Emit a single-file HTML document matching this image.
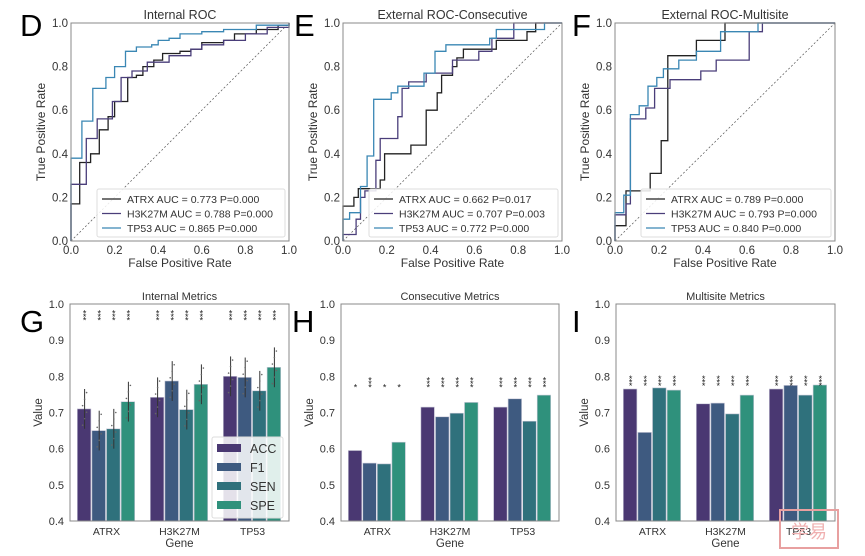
<!DOCTYPE html><html><head><meta charset="utf-8"><style>
body{margin:0;background:#fff;width:865px;height:551px;overflow:hidden}
svg text{font-family:"Liberation Sans",sans-serif;fill:#333}
</style></head><body>
<svg id="s" width="865" height="551" xmlns="http://www.w3.org/2000/svg"></svg>
<script>
const S=document.getElementById('s');let h='';
function T(x,y,t,sz,anc,extra){h+=`<text x="${x}" y="${y}" font-size="${sz}" text-anchor="${anc||'middle'}" ${extra||''}>${t}</text>`;}
const cA='#222',cH='#4a3e7a',cT='#3a87b4';
function roc(x0,x1,y0,y1,title,letter,lx,curves,leg,legx){
 const W=x1-x0,H=y1-y0;const X=v=>x0+v*W,Y=v=>y1-v*H;
 h+=`<line x1="${x0}" y1="${y1}" x2="${x1}" y2="${y0}" stroke="#555" stroke-width="0.7" stroke-dasharray="2,2"/>`;
 curves.forEach((c,i)=>{let p=c.map(q=>X(q[0]).toFixed(1)+','+Y(q[1]).toFixed(1)).join(' ');h+=`<polyline points="${p}" fill="none" stroke="${[cA,cH,cT][i]}" stroke-width="1.3"/>`;});
 h+=`<rect x="${x0}" y="${y0}" width="${W}" height="${H}" fill="none" stroke="#888" stroke-width="1"/>`;
 for(let i=0;i<=5;i++){let v=i/5;T(X(v),y1+13,v.toFixed(1),11.5);T(x0-3,Y(v)+4,v.toFixed(1),11.5,'end');}
 T((x0+x1)/2,y1+26,'False Positive Rate',12);
 T(0,0,'True Positive Rate',12,'middle',`transform="translate(${x0-26},${(y0+y1)/2}) rotate(-90)"`);
 T((x0+x1)/2,y0-4,title,12.5);
 T(lx,y0+13,letter,31,'start','style="fill:#000"');
 h+=`<rect x="${legx}" y="${y0+166}" width="${x1-legx-4}" height="48" fill="#fff" fill-opacity="0.85" stroke="#ddd" rx="2"/>`;
 leg.forEach((t,i)=>{let yy=y0+180+i*14.5;h+=`<line x1="${legx+5}" x2="${legx+24}" y1="${yy-4}" y2="${yy-4}" stroke="${[cA,cH,cT][i]}" stroke-width="1.3"/>`;T(legx+30,yy,t,10.5,'start');});
}
function st(a){let p=[[0,0]];for(let i=0;i<a.length;i+=2){let x=a[i],y=a[i+1];p.push([x,p[p.length-1][1]]);p.push([x,y]);}p.push([1,p[p.length-1][1]]);p.push([1,1]);return p;}
roc(71,289,23,241,'Internal ROC','D',20,[
st([0,.17,.04,.36,.09,.40,.13,.51,.17,.57,.2,.64,.26,.75,.3,.76,.33,.8,.38,.83,.42,.86,.5,.87,.55,.88,.6,.91,.7,.92,.75,.95,.85,.97,.95,.99]),
st([0,.26,.07,.47,.12,.56,.19,.64,.23,.75,.28,.78,.35,.82,.45,.85,.55,.88,.6,.9,.7,.92,.8,.95,.9,.98]),
st([0,.38,.05,.55,.1,.70,.16,.75,.2,.8,.25,.87,.3,.89,.37,.9,.4,.92,.45,.93,.5,.95,.6,.96,.7,.97,.85,.99])],
['ATRX AUC = 0.773 P=0.000','H3K27M AUC = 0.788 P=0.000','TP53 AUC = 0.865 P=0.000'],97);
roc(343,562,23,241,'External ROC-Consecutive','E',294,[
st([0,.16,.05,.2,.07,.24,.17,.28,.19,.4,.31,.44,.38,.6,.43,.68,.45,.76,.5,.8,.52,.84,.55,.88,.7,.92,.84,.96,.88,1]),
st([0,.03,.06,.1,.08,.2,.1,.23,.15,.37,.17,.47,.25,.57,.27,.7,.3,.73,.38,.77,.5,.83,.62,.87,.68,.93,.78,1]),
st([0,.1,.03,.13,.08,.25,.11,.39,.14,.65,.22,.68,.25,.71,.37,.77,.42,.87,.47,.9,.67,.93,.7,.97,.92,1])],
['ATRX AUC = 0.662 P=0.017','H3K27M AUC = 0.707 P=0.003','TP53 AUC = 0.772 P=0.000'],369);
roc(615,835,23,241,'External ROC-Multisite','F',572,[
st([0,.07,.05,.23,.16,.31,.21,.46,.24,.85,.37,.92,.5,1]),
st([0,.12,.05,.17,.07,.56,.14,.61,.18,.7,.25,.74,.39,.78,.46,.83,.61,.96,.67,1]),
st([0,.13,.04,.21,.07,.58,.11,.62,.15,.71,.19,.75,.22,.79,.29,.83,.37,.87,.48,.96,.65,1])],
['ATRX AUC = 0.789 P=0.000','H3K27M AUC = 0.793 P=0.000','TP53 AUC = 0.840 P=0.000'],641);
const BC=['#4a3872','#3e5a80','#2f717c','#2f917c'];
function bars(x0,x1,title,letter,lx,vals,stars,starY,err,leg){
 const y0=304,y1=521,W=x1-x0,u=W/3,Y=v=>y1-(v-0.4)/0.6*(y1-y0);
 vals.forEach((g,gi)=>g.forEach((v,bi)=>{let bx=x0+u*(gi+0.1)+bi*u*0.2;h+=`<rect x="${bx.toFixed(1)}" y="${Y(v).toFixed(1)}" width="${(u*0.2-1).toFixed(1)}" height="${(y1-Y(v)).toFixed(1)}" fill="${BC[bi]}" stroke="#c8c8d8" stroke-width="0.6"/>`;
  let cx=bx+u*0.1;
  if(err){h+=`<line x1="${cx}" x2="${cx}" y1="${Y(v+0.055)}" y2="${Y(v-0.055)}" stroke="#333" stroke-width="1"/>`;
   for(let k=0;k<6;k++){h+=`<circle cx="${cx+(k%3-1)*2}" cy="${Y(v+(k-2.5)*0.018)}" r="0.8" fill="#666"/>`;}}
  let s=stars[gi][bi];for(let k=0;k<s;k++)h+=`<text x="${cx}" y="${Y(starY)+7-k*3.5}" font-size="9" text-anchor="middle" style="fill:#222">*</text>`;
 }));
 h+=`<rect x="${x0}" y="${y0}" width="${W}" height="${y1-y0}" fill="none" stroke="#888" stroke-width="1"/>`;
 for(let i=0;i<=6;i++){let v=0.4+i*0.1;T(x0-6,Y(v)+4,v.toFixed(1),11,'end');}
 ['ATRX','H3K27M','TP53'].forEach((g,i)=>T(x0+u*(i+0.5),y1+14,g,10.5));
 T((x0+x1)/2,y1+26,'Gene',11.5);
 T(0,0,'Value',11.5,'middle',`transform="translate(${x0-28},${(y0+y1)/2}) rotate(-90)"`);
 T((x0+x1)/2,y0-4,title,11);
 if(letter)T(lx,y0+28,letter,31,'start','style="fill:#000"');
 if(leg){h+=`<rect x="212" y="437" width="71" height="81" fill="#fff" fill-opacity="0.85" stroke="#ddd" rx="2"/>`;
  ['ACC','F1','SEN','SPE'].forEach((t,i)=>{let yy=444+i*19;h+=`<rect x="217" y="${yy}" width="24" height="8" fill="${BC[i]}"/>`;T(250,yy+9,t,12.5,'start');});}
}
bars(70,289,'Internal Metrics','G',20,[[.71,.65,.655,.73],[.742,.787,.708,.778],[.80,.797,.76,.825]],[[3,3,3,3],[3,3,3,3],[3,3,3,3]],0.965,true,true);
bars(341,559,'Consecutive Metrics','H',292,[[.595,.56,.558,.618],[.715,.688,.698,.728],[.715,.738,.676,.748]],[[1,3,1,1],[3,3,3,3],[3,3,3,3]],0.78,false,false);
bars(616,835,'Multisite Metrics','I',572,[[.765,.645,.768,.762],[.724,.726,.696,.748],[.765,.775,.748,.776]],[[3,3,3,3],[3,3,3,3],[3,3,3,3]],0.785,false,false);
h+=`<rect x="780" y="510" width="58" height="38" fill="none" stroke="#e8a0a0" stroke-width="2"/><text x="809" y="538" font-size="18" text-anchor="middle" style="fill:#f0b0b0">学易</text>`;
S.innerHTML=h;
</script>
</body></html>
